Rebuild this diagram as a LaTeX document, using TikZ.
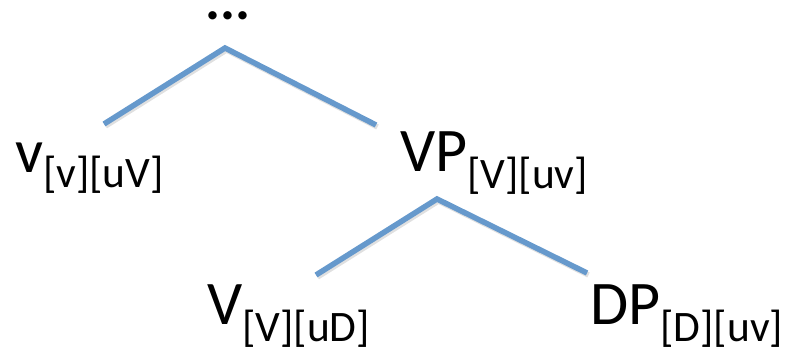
\documentclass[tikz,border=0pt]{standalone}
\usepackage{fontspec}
\setmainfont{Carlito}
\definecolor{branch}{RGB}{102,153,204}
\tikzset{
  lbl/.style={anchor=base west, inner sep=0pt, font=\fontsize{62}{62}\selectfont},
  edge/.style={draw=branch, line width=5.5pt},
  edgeshadow/.style={draw=black!12, line width=5.5pt, transform canvas={shift={(1.5pt,-2pt)}}},
}
\newcommand{\subf}[2]{\raisebox{-#1pt}{\fontsize{43.5}{43.5}\selectfont #2}}
\begin{document}
\begin{tikzpicture}[x=1pt,y=-1pt]
\useasboundingbox (0,0) rectangle (792,352);
\node[inner sep=0pt, anchor=base, text height=8pt, font=\fontsize{56}{56}\selectfont\bfseries] (dots) at (228,19.5) {...};
\coordinate (top) at (225,48);
\coordinate (tl) at (104,124);
\coordinate (tr) at (376,125);
\coordinate (mid) at (437,199);
\coordinate (ml) at (316,275);
\coordinate (mr) at (587,273);
\draw[edgeshadow] (tl) -- (top) -- (tr);
\draw[edgeshadow] (ml) -- (mid) -- (mr);
\draw[edge] (tl) -- (top) -- (tr);
\draw[edge] (ml) -- (mid) -- (mr);
\node[lbl] (v) at (15,173) {v\subf{14.5}{[v][uV]}};
\node[lbl] (vp) at (400,172) {VP\subf{17}{[V][uv]}};
\node[lbl] (V) at (207,325) {V\subf{17}{[V][uD]}};
\node[lbl] (dp) at (590,325) {DP\subf{17}{[D][uv]}};
\end{tikzpicture}
\end{document}
